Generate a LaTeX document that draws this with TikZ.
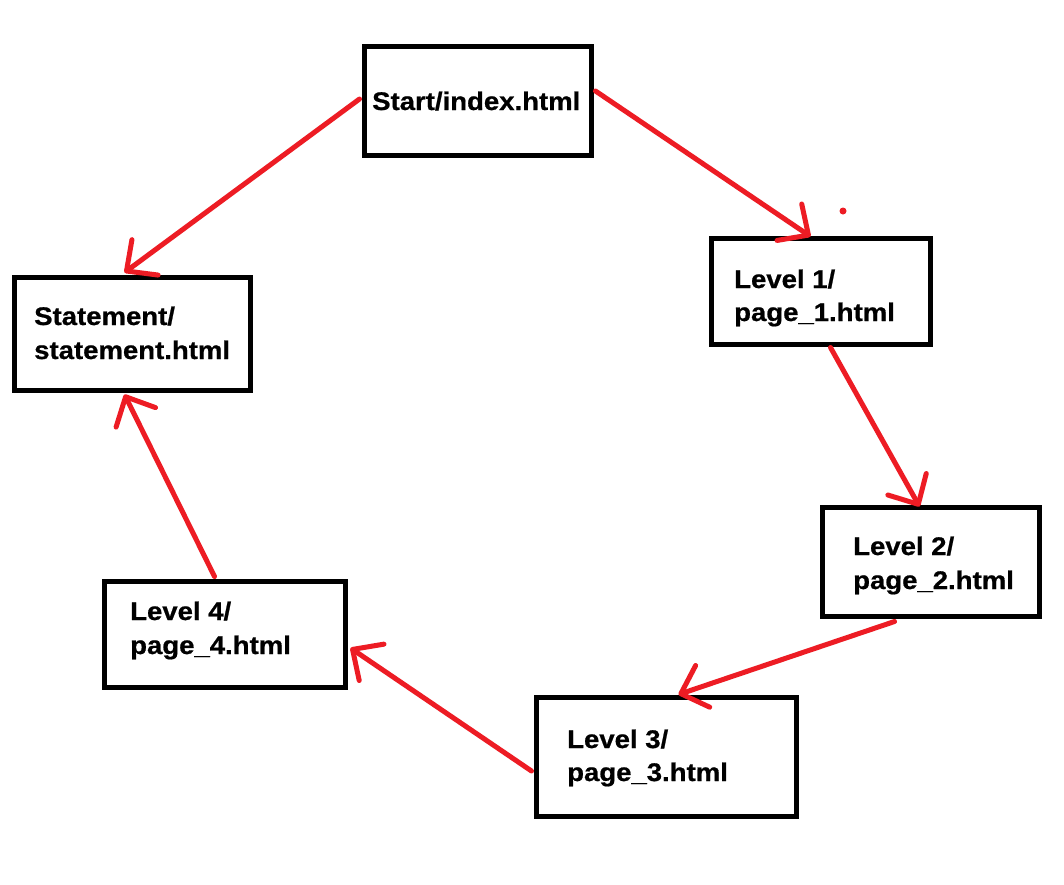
\documentclass[tikz,border=0pt]{standalone}
\usepackage{fontspec}
\newfontfamily\lblfont{Liberation Sans}[FakeStretch=1.08,BoldFeatures={FakeBold=0.7}]
\usetikzlibrary{arrows.meta,calc}
\definecolor{paintred}{RGB}{237,28,36}
\begin{document}
\begin{tikzpicture}[x=1pt,y=-1pt,
  box/.style={draw=black,line width=5pt,rectangle,inner sep=0pt},
  lbl/.style={anchor=base west,inner sep=0pt,font=\lblfont\bfseries\fontsize{25.5}{34}\selectfont},
  link/.style={draw=paintred,line width=5pt,line cap=round,line join=round,
    -{Straight Barb[round,length=23pt,width=44pt]}},
]
\useasboundingbox (0,0) rectangle (1064,884);
\fill[white] (0,0) rectangle (1064,884);

% boxes
\node[box,minimum width=227pt,minimum height=109pt] (start) at (478,101) {};
\node[box,minimum width=219pt,minimum height=106pt] (lv1) at (821,291.5) {};
\node[box,minimum width=236pt,minimum height=113pt] (stmt) at (132.5,334) {};
\node[box,minimum width=217pt,minimum height=109pt] (lv2) at (931,562) {};
\node[box,minimum width=260pt,minimum height=119pt] (lv3) at (666.5,757) {};
\node[box,minimum width=241pt,minimum height=106pt] (lv4) at (225,634.5) {};

% labels
\node[lbl] (tstart) at (372,110) {Start/index.html};
\node[lbl] (tlv1a) at (734,288) {Level 1/};
\node[lbl] (tlv1b) at (734,321) {page\_1.html};
\node[lbl] (tstmta) at (34,325) {Statement/};
\node[lbl] (tstmtb) at (34,359) {statement.html};
\node[lbl] (tlv2a) at (853,555) {Level 2/};
\node[lbl] (tlv2b) at (853,589) {page\_2.html};
\node[lbl] (tlv3a) at (567,748) {Level 3/};
\node[lbl] (tlv3b) at (567,781) {page\_3.html};
\node[lbl] (tlv4a) at (130,620) {Level 4/};
\node[lbl] (tlv4b) at (130,654) {page\_4.html};

% connectors
\draw[link] ($(start.west)+(-2.5,-2)$) -- ($(stmt.north west)+(112.5,-2.5)$);
\draw[link] ($(start.east)+(1.5,-10)$) -- ($(lv1.north west)+(101.5,0.5)$);
\draw[link] ($(lv1.south west)+(121.5,0.5)$) -- ($(lv2.north west)+(99.5,1.5)$);
\draw[link] ($(lv2.south west)+(74.5,2.5)$) -- ($(lv3.north west)+(144.5,-0.5)$);
\draw[link] ($(lv3.west)+(-2.5,14)$) -- ($(lv4.east)+(2.5,13.5)$);
\draw[link] ($(lv4.north west)+(112.5,-2.5)$) -- ($(stmt.south west)+(112.5,1.5)$);

% stray dot
\fill[paintred] (843,211) circle (3.5pt);
\end{tikzpicture}
\end{document}
